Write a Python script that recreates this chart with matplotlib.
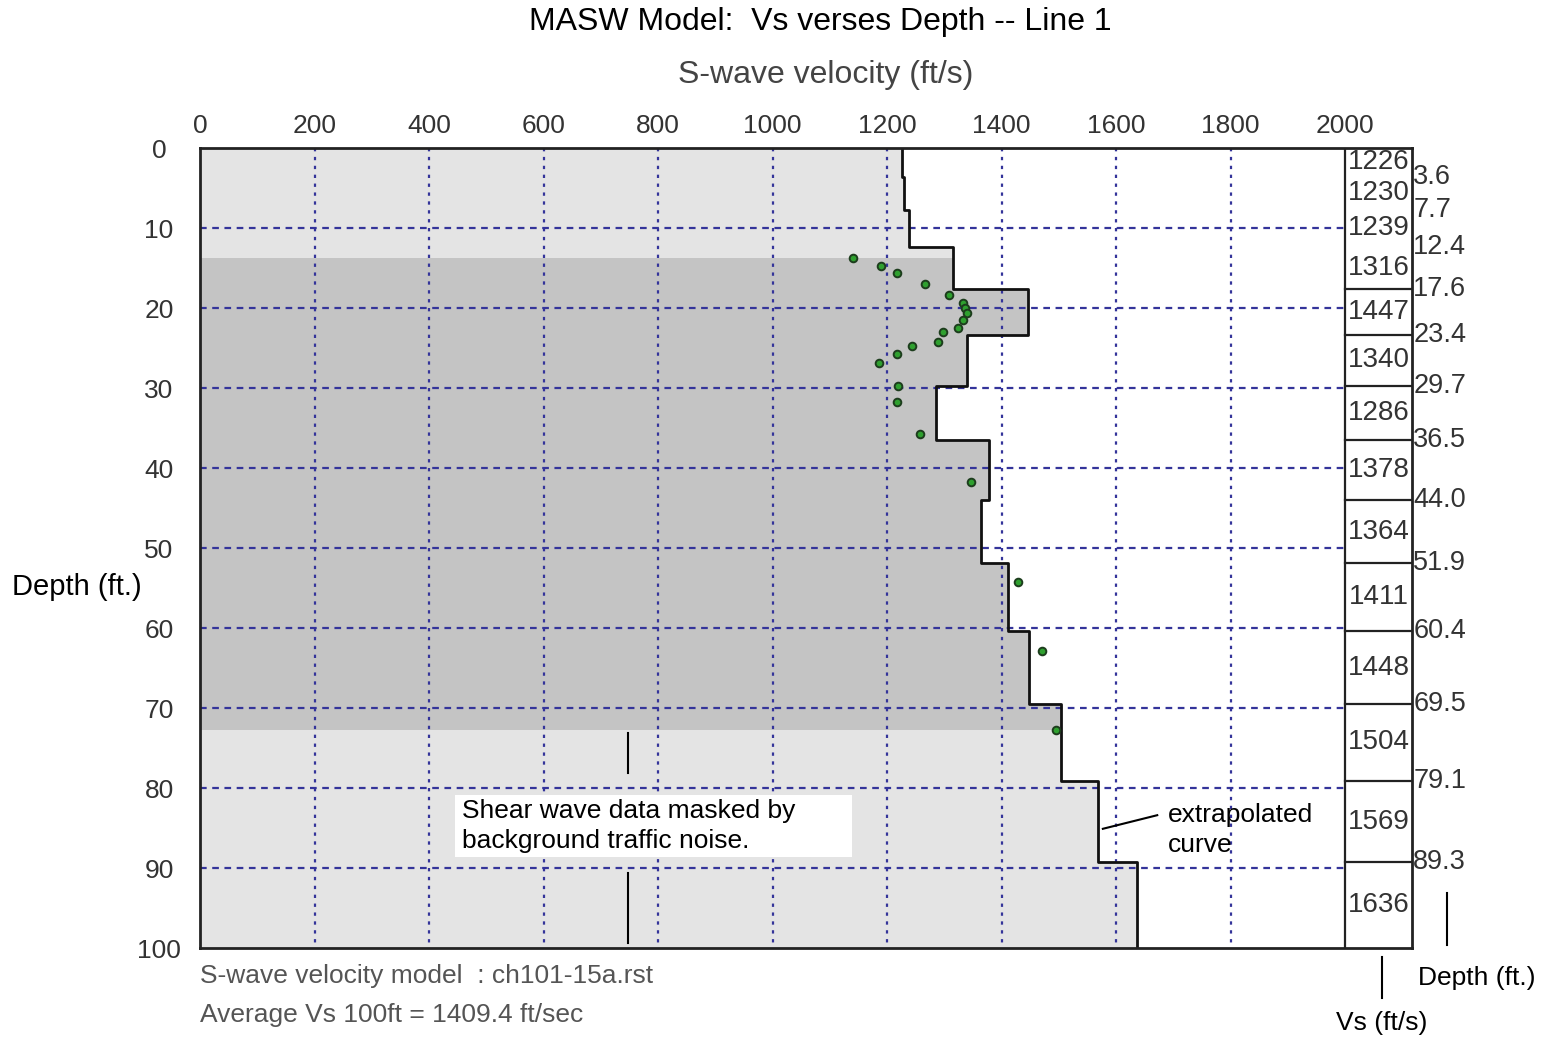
import matplotlib
matplotlib.use("Agg")
import matplotlib.pyplot as plt
import numpy as np

plt.rcParams['font.family'] = ['Liberation Sans', 'DejaVu Sans']

# ---- data ----
layer_bottoms = [3.6, 7.7, 12.4, 17.6, 23.4, 29.7, 36.5, 44.0, 51.9, 60.4, 69.5, 79.1, 89.3, 100.0]
layer_vs = [1226, 1230, 1239, 1316, 1447, 1340, 1286, 1378, 1364, 1411, 1448, 1504, 1569, 1636]
boundary_labels = ["3.6", "7.7", "12.4", "17.6", "23.4", "29.7", "36.5", "44.0",
                   "51.9", "60.4", "69.5", "79.1", "89.3"]
table_line_depths = [17.6, 23.4, 29.7, 36.5, 44.0, 51.9, 60.4, 69.5, 79.1, 89.3]
disp_vs = [1140, 1190, 1217, 1266, 1309, 1332, 1336, 1339, 1332, 1324, 1298, 1289,
           1244, 1217, 1186, 1220, 1217, 1258, 1347, 1428, 1470, 1495]
disp_depth = [13.7, 14.8, 15.6, 17.0, 18.4, 19.4, 20.0, 20.6, 21.5, 22.5, 23.0, 24.3,
              24.75, 25.8, 26.9, 29.7, 31.8, 35.75, 41.75, 54.2, 62.9, 72.75]
x_ticks = [0, 200, 400, 600, 800, 1000, 1200, 1400, 1600, 1800, 2000]
y_ticks = [0, 10, 20, 30, 40, 50, 60, 70, 80, 90, 100]
band_top, band_bot = 13.75, 72.75

W, H = 1543, 1045
fig = plt.figure(figsize=(W / 100, H / 100), dpi=100)
ax = fig.add_axes([200 / W, 1 - 948 / H, (1412 - 200) / W, (948 - 148) / H])
XMAX = 2117
ax.set_xlim(0, XMAX)
ax.set_ylim(100, 0)
ax.set_facecolor('#e4e4e4')

# step profile
tops = [0.0] + layer_bottoms[:-1]
px, py = [], []
for t, b, v in zip(tops, layer_bottoms, layer_vs):
    px += [v, v]
    py += [t, b]
px = np.array(px); py = np.array(py)

ax.axhspan(band_top, band_bot, color='#c4c4c4', zorder=0.5, lw=0)
ax.fill_betweenx(py, px, 2000, color='white', zorder=1, lw=0)
ax.axvspan(2000, XMAX, color='white', zorder=1, lw=0)

# grid
gc = '#34349a'
for x in x_ticks[1:-1]:
    ax.plot([x, x], [0, 100], color=gc, lw=1.6, ls=(0, (1.5, 2.5)), zorder=2)
for y in y_ticks[1:-1]:
    ax.plot([0, 2000], [y, y], color=gc, lw=1.6, ls=(0, (3, 2.5)), zorder=2)

ax.plot(px, py, color='#111111', lw=2, zorder=3)
ax.plot([2000, 2000], [0, 100], color='#222222', lw=1.6, zorder=3)
for d in table_line_depths:
    ax.plot([2000, XMAX], [d, d], color='#222222', lw=1.6, zorder=3)

ax.plot(disp_vs, disp_depth, 'o', ms=5.5, mfc='#2fa02f', mec='#1d3d1d', mew=1.4, zorder=4)

# table numbers and boundary labels
for t, b, v in zip(tops, layer_bottoms, layer_vs):
    ax.text((2000 + XMAX) / 2, (t + b) / 2, str(v), ha='center', va='center',
            fontsize=20, color='#333333', zorder=5)
for d, s in zip(layer_bottoms[:-1], boundary_labels):
    ax.text(XMAX + 2, d, s, ha='left', va='center', fontsize=19.5, color='#333333', clip_on=False)

# annotation box
ax.add_patch(plt.Rectangle((445, 80.9), 694, 7.7, facecolor='white', edgecolor='none', zorder=5))
ax.text(458, 84.75, "Shear wave data masked by\nbackground traffic noise.", ha='left', va='center',
        fontsize=19, color='black', linespacing=1.3, zorder=6)
ax.plot([748, 748], [73.1, 78.1], color='black', lw=1.5, zorder=5)
ax.plot([748, 748], [90.6, 99.4], color='black', lw=1.5, zorder=5)
ax.text(1691, 85.25, "extrapolated\ncurve", ha='left', va='center', fontsize=19,
        color='black', linespacing=1.3, zorder=6)
ax.plot([1577, 1672], [85.1, 83.4], color='black', lw=1.5, zorder=5)

# axes styling
ax.xaxis.tick_top()
ax.set_xticks(x_ticks)
ax.set_xticklabels([str(x) for x in x_ticks])
ax.set_yticks(y_ticks)
ax.set_yticklabels([str(y) for y in y_ticks], ha='center')
ax.tick_params(axis='x', length=0, pad=7.5, labelsize=19, labelcolor='#333333')
ax.tick_params(axis='y', length=0, pad=29.5, labelsize=19, labelcolor='#333333')
for s in ax.spines.values():
    s.set_linewidth(2)
    s.set_color('#222222')
    s.set_zorder(6)

fig.text(820 / W, 1 - 22 / H, "MASW Model:  Vs verses Depth -- Line 1", ha='center', va='center',
         fontsize=23, color='black')
fig.text(826 / W, 1 - 75 / H, "S-wave velocity (ft/s)", ha='center', va='center',
         fontsize=23, color='#444444')
fig.text(12 / W, 1 - 587 / H, "Depth (ft.)", ha='left', va='center', fontsize=21, color='black')
fig.text(200 / W, 1 - 976 / H, "S-wave velocity model  : ch101-15a.rst", ha='left', va='center',
         fontsize=19, color='#555555')
fig.text(200 / W, 1 - 1015 / H, "Average Vs 100ft = 1409.4 ft/sec", ha='left', va='center',
         fontsize=19, color='#555555')
fig.add_artist(plt.Line2D([1447 / W, 1447 / W], [1 - 893 / H, 1 - 945 / H], color='black', lw=1.5))
fig.text(1418 / W, 1 - 978 / H, "Depth (ft.)", ha='left', va='center', fontsize=19, color='black')
fig.add_artist(plt.Line2D([1382 / W, 1382 / W], [1 - 957 / H, 1 - 998 / H], color='black', lw=1.5))
fig.text(1382 / W, 1 - 1023 / H, "Vs (ft/s)", ha='center', va='center', fontsize=19, color='black')

fig.savefig("out.png", dpi=100)
